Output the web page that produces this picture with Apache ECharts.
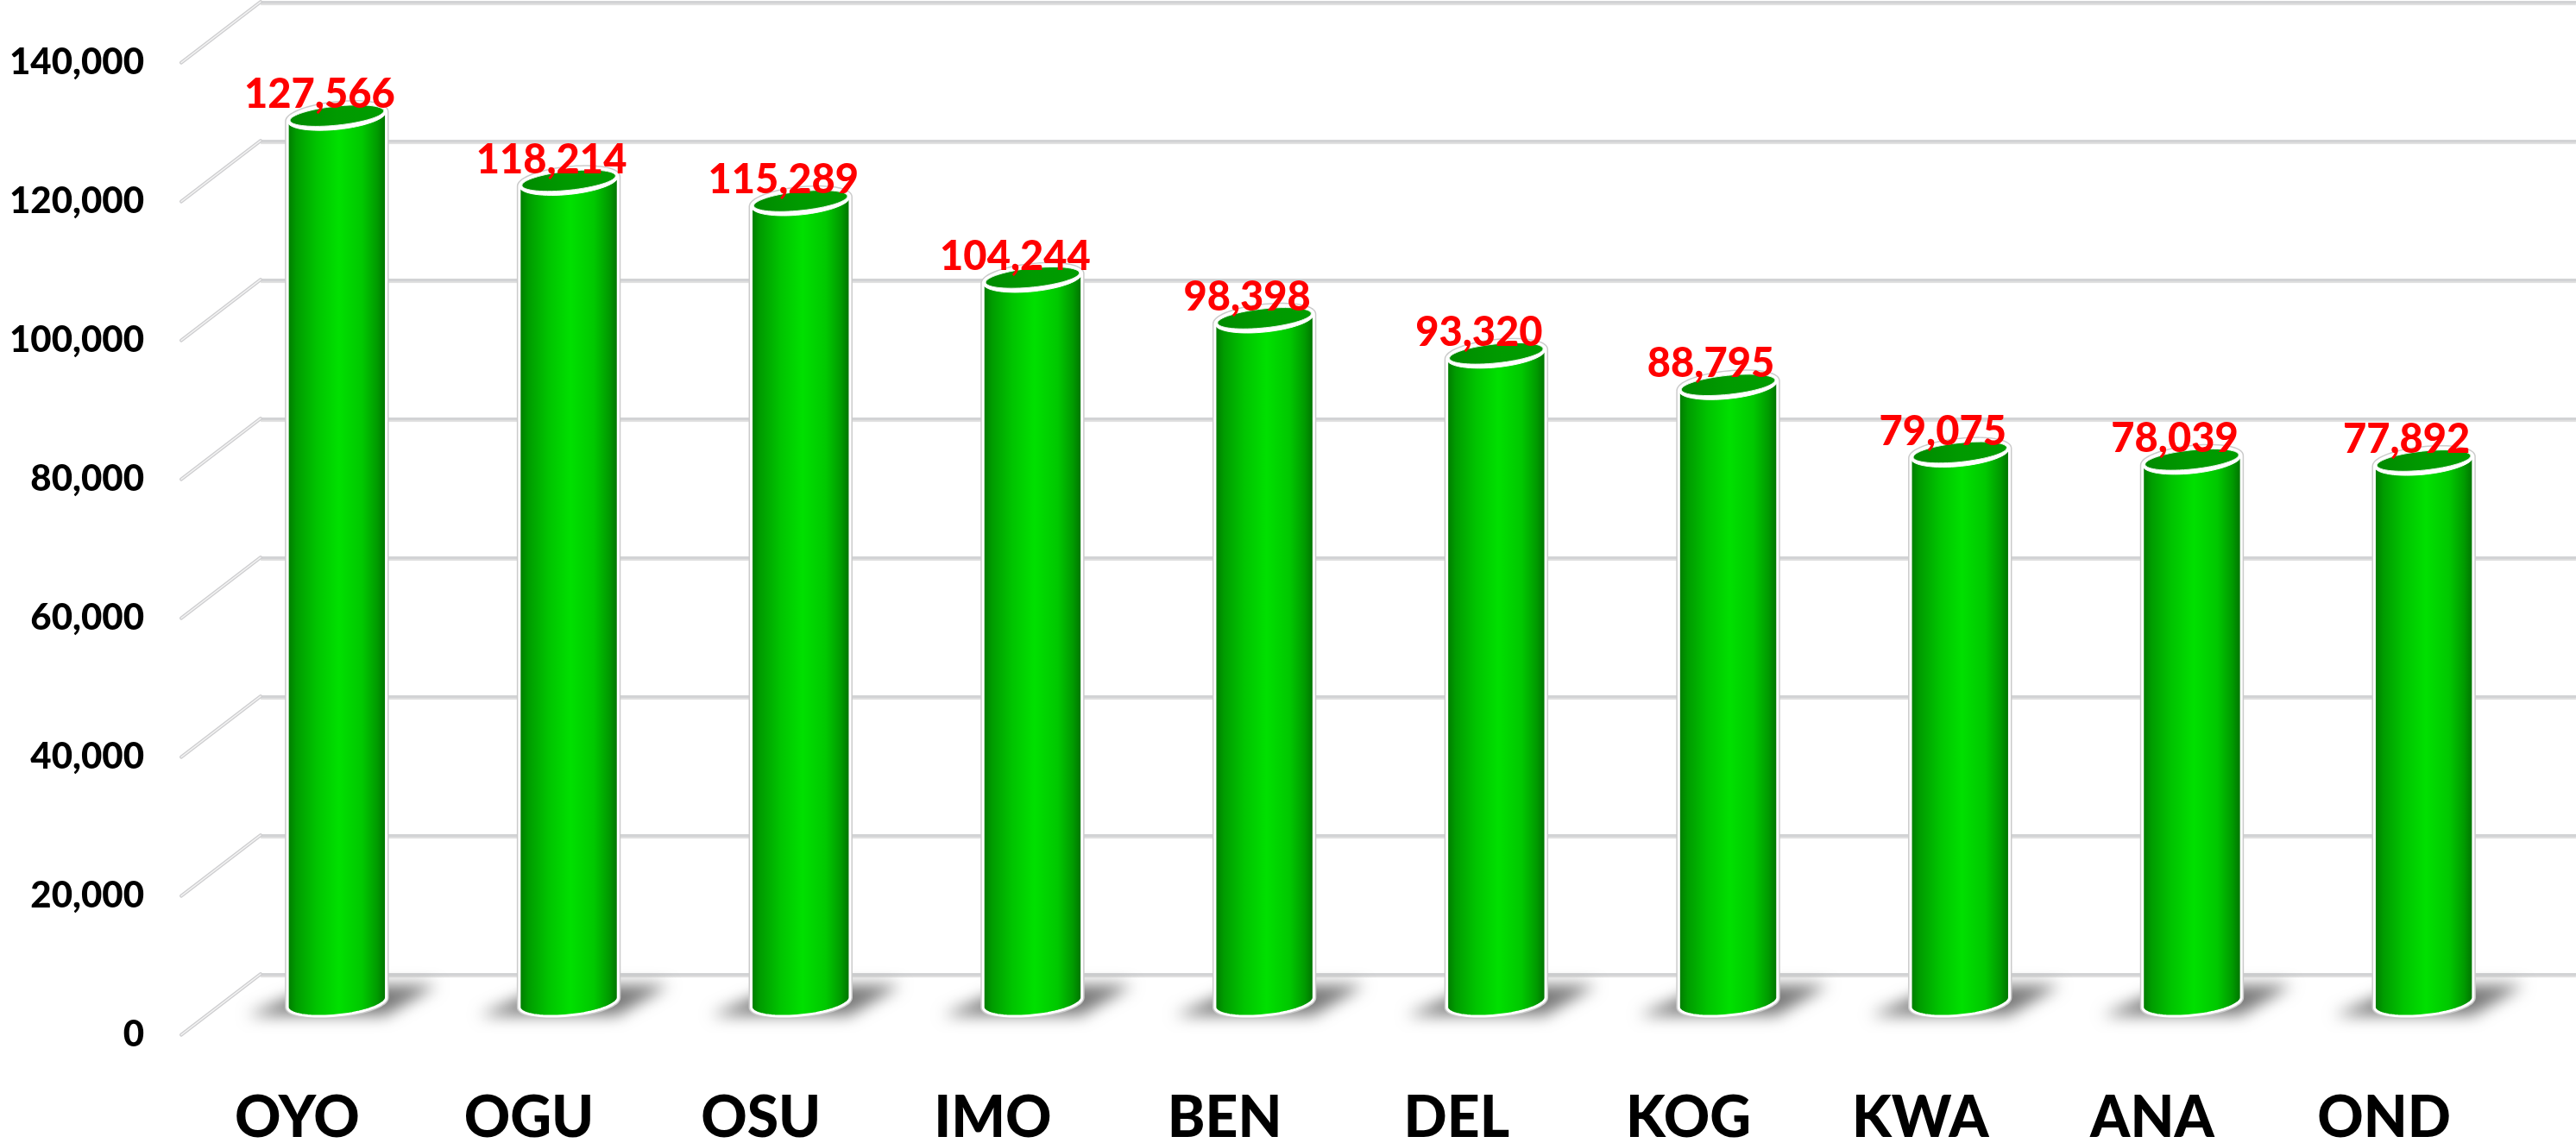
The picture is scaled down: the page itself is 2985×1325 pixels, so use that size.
<!DOCTYPE html>
<html>
<head>
<meta charset="utf-8">
<style>html,body{margin:0;padding:0;background:#fff}#c{width:2985px;height:1325px}</style>
<script src="https://cdn.jsdelivr.net/npm/echarts@6/dist/echarts.min.js"></script>
</head>
<body>
<div id="c"></div>
<script>
const categories = ['OYO','OGU','OSU','IMO','BEN','DEL','KOG','KWA','ANA','OND'];
const values = [127566,118214,115289,104244,98398,93320,88795,79075,78039,77892];
const axisTicks = [0,20000,40000,60000,80000,100000,120000,140000];

const FONT = 'Lato';
const fmt = v => Number(v).toLocaleString('en-US');
const chart = echarts.init(document.getElementById('c'), null, {renderer:'canvas'});

function ellipsePts(cx, cy, rx, ry, from, to, n) {
  const a = -6 * Math.PI / 180, pts = [];
  for (let i = 0; i <= n; i++) {
    const t = from + (to - from) * i / n;
    pts.push([cx + rx*Math.cos(t)*Math.cos(a) - ry*Math.sin(t)*Math.sin(a),
              cy + rx*Math.cos(t)*Math.sin(a) + ry*Math.sin(t)*Math.cos(a)]);
  }
  return pts;
}
const bodyFill = () => new echarts.graphic.LinearGradient(0,0,1,0,[
  {offset:0,color:'#007400'},{offset:.1,color:'#009c00'},{offset:.3,color:'#00c400'},
  {offset:.52,color:'#00e000'},{offset:.75,color:'#00c800'},{offset:.9,color:'#009a00'},{offset:1,color:'#006a00'}]);

function renderGuide(params, api) {
  const p = api.coord([0, api.value(0)]);
  const x0 = params.coordSys.x;
  const shape = {x1:x0, y1:p[1], x2:x0+92, y2:p[1]-70.5};
  return {type:'group', silent:true, children:[
    {type:'line', shape, style:{stroke:'#cdcdcf', lineWidth:4, lineCap:'round'}},
    {type:'line', shape, style:{stroke:'#f2f2f2', lineWidth:1.5, lineCap:'round'}}
  ]};
}

function renderShadow(params, api) {
  const base = api.coord([api.value(0), 0]);
  const cx = base[0], y = base[1], off = 3000;
  const core = [[cx-104,y+15],[cx-20,y-20],[cx+116,y-20],[cx+56,y+15]];
  return {type:'polygon', silent:true,
    shape:{points:core.map(q=>[q[0]-off,q[1]])},
    style:{fill:'#808080', shadowColor:'rgba(120,120,120,1)', shadowBlur:18, shadowOffsetX:off, shadowOffsetY:0}};
}

function renderCylinder(params, api) {
  const base = api.coord([api.value(0), 0]);
  const top = api.coord([api.value(0), api.value(1)]);
  const cx = base[0], rx = 57.5, ry = 15;
  const a = -6 * Math.PI / 180;
  const t0 = Math.atan2(-ry*Math.sin(a), rx*Math.cos(a));
  const outline = ellipsePts(cx, top[1], rx, ry, t0+Math.PI, t0+2*Math.PI, 40)
    .concat(ellipsePts(cx, base[1], rx, ry, t0, t0+Math.PI, 40));
  const frontArc = ellipsePts(cx, top[1]-1, 54.5, 11, 0, 2*Math.PI, 64);
  return {type:'group', children:[
    {type:'polygon', silent:true, shape:{points:outline}, style:{fill:'#d0d0d0', stroke:'#cbcbcb', lineWidth:6, lineJoin:'round'}},
    {type:'polygon', shape:{points:outline}, style:{fill:bodyFill(), stroke:'#ffffff', lineWidth:3, lineJoin:'round'}},
    {type:'polygon', silent:true, shape:{points:ellipsePts(cx, top[1], rx, ry, 0, 2*Math.PI, 64)}, style:{fill:'#ffffff', stroke:'#ffffff', lineWidth:1}},
    {type:'polygon', silent:true, shape:{points:frontArc}, style:{fill:new echarts.graphic.LinearGradient(0,0,1,0,[
      {offset:0,color:'#008a00'},{offset:.5,color:'#009a00'},{offset:1,color:'#009c00'}]), stroke:'#e8f5e8', lineWidth:1}},
    {type:'text', z2:100, silent:true, style:{x:cx-20, y:top[1]-25, text:fmt(api.value(1)),
      fill:'#ff0000', font:'900 47px '+FONT, align:'center', verticalAlign:'middle'}}
  ]};
}

const cat = gridIndex => ({type:'category', gridIndex, data:categories, axisLine:{show:false}, axisTick:{show:false}, splitLine:{show:false}});
const val = gridIndex => ({type:'value', gridIndex, min:0, max:140000, interval:20000, axisLine:{show:false}, axisTick:{show:false}});

chart.setOption({
  animation:false,
  backgroundColor:'#ffffff',
  grid:[
    {left:210, right:88, top:72.6, bottom:125.4, outerBoundsMode:'none'},
    {left:302, right:0, top:2, bottom:196, outerBoundsMode:'none'},
    {left:256, right:42, top:35, bottom:163, outerBoundsMode:'none'}
  ],
  xAxis:[
    Object.assign(cat(0),{axisLabel:{show:true,interval:0,color:'#000',fontFamily:FONT,fontWeight:900,fontSize:66,margin:64,lineHeight:66}}),
    Object.assign(cat(1),{axisLabel:{show:false}}),
    Object.assign(cat(2),{axisLabel:{show:false}})
  ],
  yAxis:[
    Object.assign(val(0),{splitLine:{show:false},axisLabel:{show:true,color:'#000',fontFamily:FONT,fontWeight:900,fontSize:42,margin:43,formatter:fmt}}),
    Object.assign(val(1),{axisLabel:{show:false},splitLine:{show:true,lineStyle:{color:'#d2d3d5',width:3,shadowColor:'#dedede',shadowBlur:1,shadowOffsetY:2}}}),
    Object.assign(val(2),{axisLabel:{show:false},splitLine:{show:false}})
  ],
  series:[
    {type:'custom', name:'guides', xAxisIndex:0, yAxisIndex:0, z:1, clip:false, renderItem:renderGuide, data:axisTicks.map(v=>[v]), encode:{y:0}},
    {type:'custom', name:'shadows', xAxisIndex:2, yAxisIndex:2, z:2, clip:false, renderItem:renderShadow, data:categories.map((c,i)=>[i,values[i]]), encode:{x:0,y:1}},
    {type:'custom', name:'Value', xAxisIndex:2, yAxisIndex:2, z:3, clip:false, renderItem:renderCylinder, data:categories.map((c,i)=>[i,values[i]]), encode:{x:0,y:1}}
  ]
});
</script>
</body>
</html>
